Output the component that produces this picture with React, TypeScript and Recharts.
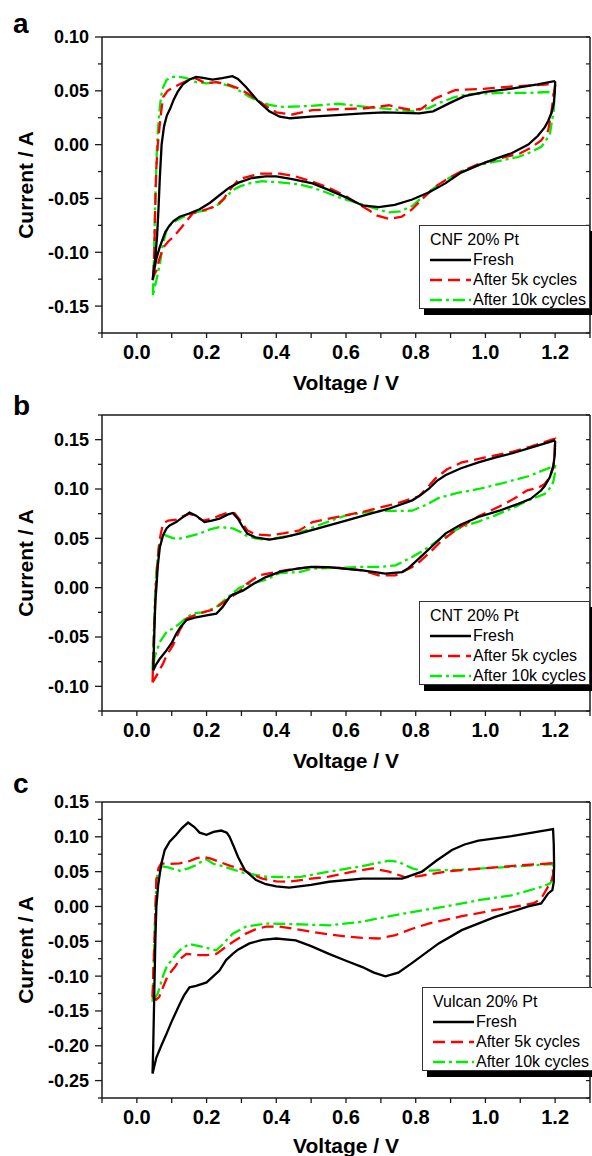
import React from 'react';
import { LineChart, Line, XAxis, YAxis, Legend } from 'recharts';

type Pt = [number, number];

// voltage axis
const voltTicks = [-0.1, 0, 0.1, 0.2, 0.3, 0.4, 0.5, 0.6, 0.7, 0.8, 0.9, 1.0, 1.1, 1.2, 1.3];
const voltLabels = [0, 0.2, 0.4, 0.6, 0.8, 1.0, 1.2];
const seriesNames = ['Fresh', 'After 5k cycles', 'After 10k cycles'];

// current axes (A)
const cnfTicks = [-0.175, -0.15, -0.125, -0.1, -0.075, -0.05, -0.025, 0, 0.025, 0.05, 0.075, 0.1];
const cntTicks = [-0.125, -0.1, -0.075, -0.05, -0.025, 0, 0.025, 0.05, 0.075, 0.1, 0.125, 0.15, 0.175];
const vulcanTicks = [-0.275, -0.25, -0.225, -0.2, -0.175, -0.15, -0.125, -0.1, -0.075, -0.05, -0.025, 0, 0.025, 0.05, 0.075, 0.1, 0.125, 0.15];

// CNF 20% Pt  [V, A]
const cnfFresh: Pt[] = [
  [0.045, -0.126], [0.052, -0.108], [0.058, -0.085], [0.062, -0.06], [0.066, -0.03], [0.071, 0.0], [0.078, 0.017],
  [0.086, 0.027], [0.095, 0.033], [0.106, 0.042], [0.117, 0.049], [0.132, 0.056], [0.151, 0.0605], [0.17, 0.063],
  [0.19, 0.062], [0.217, 0.0605], [0.245, 0.0618], [0.274, 0.0636], [0.29, 0.061], [0.313, 0.0536], [0.33, 0.047],
  [0.346, 0.041], [0.38, 0.031], [0.41, 0.026], [0.44, 0.0245], [0.5, 0.026], [0.55, 0.027], [0.65, 0.029],
  [0.71, 0.03], [0.81, 0.029], [0.85, 0.031], [0.9, 0.039], [0.94, 0.045], [1.0, 0.049], [1.075, 0.052],
  [1.15, 0.056], [1.197, 0.059],
  [1.2, 0.058], [1.199, 0.048], [1.196, 0.038], [1.19, 0.03], [1.18, 0.022], [1.17, 0.016], [1.15, 0.008],
  [1.123, 0.0], [1.075, -0.008], [1.03, -0.013], [0.98, -0.019], [0.93, -0.026], [0.885, -0.036], [0.84, -0.044],
  [0.79, -0.051], [0.74, -0.056], [0.694, -0.058], [0.647, -0.0565], [0.6, -0.049], [0.55, -0.042], [0.504, -0.036],
  [0.446, -0.032], [0.4, -0.0295], [0.37, -0.0295], [0.33, -0.031], [0.294, -0.035], [0.265, -0.04], [0.237, -0.047],
  [0.21, -0.054], [0.18, -0.06], [0.15, -0.064], [0.123, -0.067], [0.105, -0.071], [0.094, -0.075], [0.082, -0.081],
  [0.075, -0.087], [0.065, -0.096], [0.056, -0.106], [0.05, -0.116], [0.045, -0.126],
];
const cnf5k: Pt[] = [
  [0.047, -0.123], [0.05, -0.1], [0.052, -0.07], [0.054, -0.04], [0.056, -0.021], [0.06, 0.0], [0.068, 0.026],
  [0.075, 0.044], [0.088, 0.05], [0.104, 0.053], [0.128, 0.057], [0.15, 0.06], [0.166, 0.062], [0.185, 0.059],
  [0.2, 0.057], [0.228, 0.058], [0.26, 0.056], [0.294, 0.052], [0.32, 0.047], [0.347, 0.041], [0.375, 0.035],
  [0.4, 0.03], [0.446, 0.028], [0.503, 0.032], [0.58, 0.033], [0.646, 0.0335], [0.723, 0.0366], [0.76, 0.034],
  [0.79, 0.032], [0.817, 0.0335], [0.856, 0.043], [0.913, 0.0506], [1.0, 0.052], [1.075, 0.054], [1.18, 0.056],
  [1.2, 0.055],
  [1.195, 0.045], [1.19, 0.032], [1.18, 0.013], [1.16, 0.004], [1.13, -0.003], [1.1, -0.008], [1.04, -0.013],
  [0.98, -0.018], [0.93, -0.025], [0.885, -0.033], [0.856, -0.039], [0.82, -0.05], [0.79, -0.06], [0.76, -0.067],
  [0.723, -0.069], [0.69, -0.066], [0.666, -0.061], [0.63, -0.054], [0.6, -0.048], [0.55, -0.04], [0.5, -0.034],
  [0.45, -0.029], [0.41, -0.027], [0.351, -0.027], [0.294, -0.032], [0.274, -0.039], [0.25, -0.05], [0.228, -0.057],
  [0.2, -0.06], [0.16, -0.064], [0.14, -0.072], [0.12, -0.08], [0.104, -0.086], [0.09, -0.09], [0.075, -0.096],
  [0.063, -0.108], [0.056, -0.117], [0.047, -0.123],
];
const cnf10k: Pt[] = [
  [0.046, -0.14], [0.048, -0.12], [0.05, -0.09], [0.052, -0.06], [0.055, -0.03], [0.058, 0.0], [0.062, 0.02],
  [0.066, 0.035], [0.07, 0.046], [0.075, 0.053], [0.085, 0.06], [0.099, 0.063], [0.12, 0.063], [0.14, 0.062],
  [0.17, 0.058], [0.2, 0.057], [0.228, 0.058], [0.25, 0.056], [0.274, 0.0536], [0.3, 0.049], [0.325, 0.044],
  [0.351, 0.04], [0.38, 0.037], [0.418, 0.035], [0.5, 0.036], [0.58, 0.038], [0.63, 0.036], [0.675, 0.0345],
  [0.73, 0.033], [0.79, 0.031], [0.837, 0.034], [0.87, 0.039], [0.91, 0.044], [0.951, 0.047], [1.05, 0.048],
  [1.12, 0.048], [1.19, 0.049],
  [1.198, 0.045], [1.196, 0.032], [1.19, 0.02], [1.185, 0.01], [1.17, 0.002], [1.16, -0.002], [1.13, -0.007],
  [1.094, -0.0115], [1.04, -0.015], [0.98, -0.019], [0.93, -0.025], [0.885, -0.033], [0.85, -0.041], [0.818, -0.049],
  [0.79, -0.057], [0.755, -0.062], [0.723, -0.063], [0.69, -0.06], [0.656, -0.0565], [0.62, -0.053], [0.58, -0.049],
  [0.54, -0.044], [0.504, -0.04], [0.466, -0.037], [0.41, -0.035], [0.36, -0.034], [0.323, -0.036], [0.294, -0.039],
  [0.274, -0.0425], [0.255, -0.049], [0.237, -0.055], [0.2, -0.061], [0.161, -0.063], [0.135, -0.067],
  [0.113, -0.0705], [0.095, -0.075], [0.085, -0.08], [0.075, -0.092], [0.066, -0.111], [0.056, -0.126], [0.046, -0.14],
];

// CNT 20% Pt
const cntFresh: Pt[] = [
  [0.047, -0.084], [0.049, -0.06], [0.051, -0.035], [0.053, -0.015], [0.056, 0.0], [0.06, 0.022], [0.066, 0.041],
  [0.075, 0.053], [0.085, 0.06], [0.094, 0.063], [0.113, 0.0665], [0.13, 0.071], [0.151, 0.076], [0.17, 0.073],
  [0.194, 0.0665], [0.215, 0.068], [0.237, 0.07], [0.26, 0.074], [0.275, 0.0757], [0.29, 0.07], [0.303, 0.062],
  [0.317, 0.0548], [0.34, 0.051], [0.38, 0.0487], [0.42, 0.051], [0.466, 0.0548], [0.53, 0.061], [0.6, 0.068],
  [0.66, 0.074], [0.723, 0.08], [0.79, 0.0885], [0.815, 0.094], [0.837, 0.1], [0.86, 0.108], [0.885, 0.114],
  [0.93, 0.121], [0.98, 0.127], [1.03, 0.132], [1.075, 0.136], [1.14, 0.143], [1.197, 0.149],
  [1.2, 0.148], [1.199, 0.135], [1.195, 0.124], [1.185, 0.112], [1.17, 0.103], [1.16, 0.0987], [1.13, 0.09],
  [1.094, 0.085], [1.04, 0.078], [0.98, 0.0716], [0.93, 0.064], [0.885, 0.0548], [0.85, 0.043], [0.809, 0.0294],
  [0.78, 0.02], [0.761, 0.0158], [0.713, 0.0142], [0.647, 0.0175], [0.6, 0.019], [0.551, 0.0209], [0.5, 0.021],
  [0.456, 0.019], [0.41, 0.016], [0.37, 0.0107], [0.335, 0.004], [0.304, -0.003], [0.275, -0.007], [0.266, -0.0095],
  [0.245, -0.02], [0.228, -0.0264], [0.2, -0.028], [0.17, -0.03], [0.142, -0.033], [0.125, -0.04], [0.113, -0.0467],
  [0.1, -0.056], [0.085, -0.0636], [0.066, -0.072], [0.055, -0.078], [0.047, -0.084],
];
const cnt5k: Pt[] = [
  [0.045, -0.096], [0.047, -0.07], [0.05, -0.04], [0.053, -0.01], [0.056, 0.01], [0.06, 0.03], [0.066, 0.05],
  [0.075, 0.065], [0.09, 0.068], [0.113, 0.069], [0.13, 0.072], [0.151, 0.075], [0.17, 0.072], [0.19, 0.068],
  [0.215, 0.07], [0.237, 0.073], [0.26, 0.076], [0.28, 0.0755], [0.295, 0.069], [0.317, 0.058], [0.34, 0.054],
  [0.38, 0.053], [0.42, 0.055], [0.466, 0.058], [0.504, 0.0665], [0.58, 0.072], [0.646, 0.0767], [0.742, 0.085],
  [0.809, 0.0926], [0.83, 0.1], [0.856, 0.1105], [0.89, 0.12], [0.932, 0.127], [1.0, 0.132], [1.075, 0.1375],
  [1.13, 0.143], [1.19, 0.15], [1.2, 0.151],
  [1.198, 0.135], [1.195, 0.122], [1.185, 0.112], [1.17, 0.105], [1.15, 0.101], [1.12, 0.0987], [1.09, 0.092],
  [1.056, 0.085], [0.98, 0.0723], [0.913, 0.058], [0.87, 0.046], [0.837, 0.0345], [0.81, 0.026], [0.79, 0.0209],
  [0.742, 0.0125], [0.694, 0.0125], [0.647, 0.0175], [0.58, 0.02], [0.504, 0.021], [0.45, 0.019], [0.4, 0.016],
  [0.351, 0.0125], [0.316, 0.004], [0.29, -0.005], [0.256, -0.013], [0.22, -0.022], [0.18, -0.026], [0.142, -0.0314],
  [0.123, -0.043], [0.104, -0.058], [0.085, -0.069], [0.075, -0.077], [0.06, -0.087], [0.045, -0.096],
];
const cnt10k: Pt[] = [
  [0.045, -0.084], [0.047, -0.06], [0.05, -0.03], [0.053, 0.0], [0.058, 0.025], [0.064, 0.045], [0.075, 0.054],
  [0.09, 0.052], [0.105, 0.05], [0.123, 0.0497], [0.15, 0.052], [0.18, 0.0548], [0.21, 0.059], [0.237, 0.0615],
  [0.275, 0.06], [0.295, 0.057], [0.313, 0.053], [0.34, 0.05], [0.37, 0.0487], [0.41, 0.051], [0.447, 0.053],
  [0.504, 0.061], [0.55, 0.067], [0.6, 0.0733], [0.65, 0.076], [0.694, 0.0777], [0.79, 0.078], [0.83, 0.084],
  [0.866, 0.091], [0.92, 0.096], [0.98, 0.1], [1.05, 0.106], [1.123, 0.1129], [1.185, 0.1217], [1.2, 0.123],
  [1.199, 0.115], [1.195, 0.108], [1.19, 0.103], [1.17, 0.095], [1.123, 0.0885], [1.08, 0.081], [1.028, 0.0733],
  [0.98, 0.067], [0.932, 0.0615], [0.88, 0.052], [0.837, 0.041], [0.79, 0.031], [0.742, 0.0226], [0.7, 0.021],
  [0.647, 0.021], [0.504, 0.0193], [0.466, 0.0158], [0.41, 0.0148], [0.37, 0.008], [0.33, 0.004], [0.294, 0.0],
  [0.26, -0.01], [0.228, -0.0197], [0.19, -0.025], [0.161, -0.026], [0.14, -0.031], [0.123, -0.0365], [0.1, -0.042],
  [0.085, -0.045], [0.066, -0.055], [0.055, -0.066], [0.051, -0.0704], [0.045, -0.084],
];

// Vulcan 20% Pt
const vulcanFresh: Pt[] = [
  [0.045, -0.24], [0.047, -0.2], [0.049, -0.15], [0.051, -0.1], [0.053, -0.05], [0.056, 0.0], [0.061, 0.03],
  [0.066, 0.0475], [0.072, 0.065], [0.08, 0.081], [0.094, 0.093], [0.113, 0.103], [0.13, 0.113], [0.147, 0.1205],
  [0.165, 0.114], [0.18, 0.106], [0.2, 0.103], [0.22, 0.107], [0.242, 0.109], [0.258, 0.106], [0.266, 0.1],
  [0.278, 0.086], [0.29, 0.0715], [0.31, 0.052], [0.342, 0.038], [0.37, 0.032], [0.4, 0.029], [0.437, 0.027],
  [0.5, 0.031], [0.551, 0.0355], [0.647, 0.04], [0.761, 0.04], [0.818, 0.05], [0.86, 0.066], [0.904, 0.081],
  [0.94, 0.089], [0.98, 0.0945], [1.075, 0.101], [1.194, 0.111],
  [1.196, 0.09], [1.197, 0.06], [1.196, 0.035], [1.192, 0.0235], [1.18, 0.0187], [1.16, 0.0043], [1.123, 0.0],
  [1.028, -0.015], [0.932, -0.034], [0.866, -0.053], [0.79, -0.081], [0.75, -0.095], [0.713, -0.1004], [0.68, -0.095],
  [0.647, -0.087], [0.6, -0.078], [0.551, -0.068], [0.5, -0.057], [0.456, -0.0486], [0.4, -0.046], [0.36, -0.048],
  [0.323, -0.053], [0.29, -0.062], [0.275, -0.068], [0.256, -0.077], [0.237, -0.092], [0.2, -0.109], [0.17, -0.114],
  [0.151, -0.116], [0.135, -0.128], [0.123, -0.14], [0.1, -0.165], [0.085, -0.183], [0.07, -0.2], [0.056, -0.217],
  [0.045, -0.24],
];
const vulcan5k: Pt[] = [
  [0.045, -0.13], [0.047, -0.1], [0.049, -0.07], [0.051, -0.04], [0.053, -0.01], [0.056, 0.038], [0.062, 0.055],
  [0.07, 0.062], [0.09, 0.061], [0.123, 0.062], [0.15, 0.065], [0.17, 0.069], [0.19, 0.0715], [0.21, 0.069],
  [0.237, 0.064], [0.27, 0.058], [0.304, 0.053], [0.33, 0.046], [0.36, 0.04], [0.4, 0.036], [0.437, 0.0355],
  [0.5, 0.04], [0.551, 0.0427], [0.62, 0.05], [0.675, 0.0547], [0.723, 0.05], [0.77, 0.042], [0.809, 0.0437],
  [0.885, 0.05], [0.95, 0.053], [1.028, 0.056], [1.1, 0.059], [1.19, 0.062],
  [1.195, 0.0475], [1.19, 0.038], [1.185, 0.033], [1.17, 0.02], [1.16, 0.0115], [1.14, 0.005], [1.113, 0.002],
  [1.028, -0.005], [0.932, -0.014], [0.837, -0.0245], [0.79, -0.032], [0.742, -0.041], [0.694, -0.046],
  [0.647, -0.045], [0.6, -0.043], [0.55, -0.04], [0.504, -0.0366], [0.45, -0.032], [0.409, -0.029], [0.37, -0.029],
  [0.34, -0.033], [0.313, -0.039], [0.275, -0.051], [0.25, -0.06], [0.228, -0.068], [0.2, -0.07], [0.18, -0.07],
  [0.142, -0.068], [0.125, -0.075], [0.109, -0.087], [0.089, -0.099], [0.075, -0.116], [0.064, -0.13],
  [0.055, -0.134], [0.045, -0.13],
];
const vulcan10k: Pt[] = [
  [0.045, -0.137], [0.047, -0.1], [0.049, -0.07], [0.051, -0.04], [0.053, -0.01], [0.056, 0.038], [0.062, 0.052],
  [0.07, 0.058], [0.09, 0.056], [0.123, 0.0513], [0.15, 0.055], [0.17, 0.0595], [0.19, 0.066], [0.2, 0.0677],
  [0.22, 0.061], [0.246, 0.058], [0.304, 0.0485], [0.37, 0.0427], [0.466, 0.042], [0.551, 0.05], [0.647, 0.058],
  [0.723, 0.0657], [0.751, 0.064], [0.79, 0.0547], [0.818, 0.0513], [0.932, 0.053], [1.075, 0.057], [1.194, 0.061],
  [1.196, 0.0427], [1.185, 0.033], [1.16, 0.028], [1.075, 0.016], [0.98, 0.009], [0.885, 0.0], [0.79, -0.008],
  [0.713, -0.015], [0.647, -0.022], [0.551, -0.027], [0.456, -0.0255], [0.37, -0.0245], [0.313, -0.029],
  [0.275, -0.039], [0.245, -0.055], [0.228, -0.063], [0.19, -0.058], [0.151, -0.054], [0.13, -0.06], [0.113, -0.068],
  [0.095, -0.08], [0.085, -0.087], [0.075, -0.1], [0.06, -0.125], [0.045, -0.137],
];

const FONT = '"Liberation Sans", Arial, Helvetica, sans-serif';
const AXIS = '#1a1a1a';
const lineStyles = [
  { stroke: '#000000', dash: undefined as string | undefined },
  { stroke: '#ff0000', dash: '12 6' },
  { stroke: '#00ee00', dash: '12 4 3 4' },
];

const toRows = (pts: Pt[]) => pts.map(([v, i]) => ({ v, i }));
const near = (a: number, b: number) => Math.abs(a - b) < 1e-6;

const BottomTick = (p: any) => {
  const { x, y, payload } = p;
  const v = payload.value as number;
  const show = voltLabels.some((l) => near(l, v));
  return (
    <g>
      <line x1={x} x2={x} y1={y} y2={y + 5} stroke={AXIS} strokeWidth={1.3} />
      {show && (
        <text x={x} y={y + 26} textAnchor="middle" fontFamily={FONT} fontWeight="bold" fontSize={20} fill="#000">
          {v.toFixed(1)}
        </text>
      )}
    </g>
  );
};

const TopTick = (p: any) => (
  <line x1={p.x} x2={p.x} y1={p.y} y2={p.y + 4} stroke={AXIS} strokeWidth={1.2} />
);

const LeftTick = (p: any) => {
  const { x, y, payload } = p;
  const v = payload.value as number;
  const major = near(Math.round(v / 0.05) * 0.05, v);
  return (
    <g>
      <line x1={x - (major ? 7 : 4)} x2={x} y1={y} y2={y} stroke={AXIS} strokeWidth={1.3} />
      {major && (
        <text x={x - 13} y={y} dy="0.36em" textAnchor="end" fontFamily={FONT} fontWeight="bold" fontSize={18} fill="#000">
          {(Math.round(v * 100) / 100).toFixed(2)}
        </text>
      )}
    </g>
  );
};

const RightTick = (p: any) => (
  <line x1={p.x - 4} x2={p.x} y1={p.y} y2={p.y} stroke={AXIS} strokeWidth={1.2} />
);

const LegendBox = ({ title }: { title: string }) => (
  <div
    style={{
      position: 'relative', width: 171, height: 84, boxSizing: 'border-box', border: '1px solid #333',
      background: '#fff', boxShadow: '5px 6px 0 #000', fontFamily: FONT, fontSize: 16, color: '#000',
    }}
  >
    <div style={{ position: 'absolute', left: 10, top: 4, height: 20, lineHeight: '20px', whiteSpace: 'nowrap' }}>{title}</div>
    {seriesNames.map((n, k) => (
      <div key={n} style={{ position: 'absolute', left: 10, top: 24 + 20 * k, height: 20, display: 'flex', alignItems: 'center' }}>
        <svg width={41} height={20}>
          <line x1={0} x2={41} y1={10} y2={10} stroke={lineStyles[k].stroke} strokeWidth={2.5} strokeDasharray={lineStyles[k].dash} />
        </svg>
        <span style={{ marginLeft: 2, lineHeight: '20px', whiteSpace: 'nowrap' }}>{n}</span>
      </div>
    ))}
  </div>
);

interface PanelProps {
  title: string;
  series: Pt[][];
  yTicks: number[];
  top: number;
  height: number;
  marginTop: number;
  xAxisHeight: number;
  titleGap: number;
  legendTop: number;
  legendLeft: number;
}

const Panel = ({ title, series, yTicks, top, height, marginTop, xAxisHeight, titleGap, legendTop, legendLeft }: PanelProps) => {
  const plotBottom = height - xAxisHeight;
  const yMid = (marginTop + plotBottom) / 2;
  const yDomain: [number, number] = [yTicks[0], yTicks[yTicks.length - 1]];
  const order = [2, 1, 0];
  return (
    <div style={{ position: 'absolute', left: 0, top }}>
      <LineChart width={592} height={height} margin={{ top: marginTop, right: 2, bottom: 0, left: 0 }}>
        <XAxis
          xAxisId="x" dataKey="v" type="number" domain={[-0.1, 1.3]} allowDataOverflow ticks={voltTicks} interval={0}
          height={xAxisHeight} tickSize={0} tickMargin={0} tickLine={false} tick={BottomTick}
          axisLine={{ stroke: AXIS, strokeWidth: 1.5 }}
          label={() => (
            <text x={346} y={plotBottom + titleGap} textAnchor="middle" fontFamily={FONT} fontWeight="bold" fontSize={21} fill="#000">
              Voltage / V
            </text>
          )}
        />
        <XAxis
          xAxisId="xt" orientation="top" mirror type="number" domain={[-0.1, 1.3]} allowDataOverflow ticks={voltTicks}
          interval={0} tickSize={0} tickMargin={0} tickLine={false} tick={TopTick} axisLine={{ stroke: AXIS, strokeWidth: 1.5 }}
        />
        <YAxis
          yAxisId="y" type="number" domain={yDomain} allowDataOverflow ticks={yTicks} interval={0} width={102}
          tickSize={0} tickMargin={0} tickLine={false} tick={LeftTick} axisLine={{ stroke: AXIS, strokeWidth: 1.5 }}
          label={() => (
            <text transform={`translate(33, ${yMid}) rotate(-90)`} textAnchor="middle" fontFamily={FONT} fontWeight="bold" fontSize={21} fill="#000">
              Current / A
            </text>
          )}
        />
        <YAxis
          yAxisId="yr" orientation="right" mirror type="number" domain={yDomain} allowDataOverflow ticks={yTicks}
          interval={0} tickSize={0} tickMargin={0} tickLine={false} tick={RightTick} axisLine={{ stroke: AXIS, strokeWidth: 1.5 }}
        />
        {order.map((k) => (
          <Line
            key={seriesNames[k]}
            xAxisId="x"
            yAxisId="y"
            data={toRows(series[k])}
            dataKey="i"
            name={seriesNames[k]}
            type="linear"
            stroke={lineStyles[k].stroke}
            strokeWidth={2.3}
            strokeDasharray={lineStyles[k].dash}
            dot={false}
            activeDot={false}
            isAnimationActive={false}
          />
        ))}
        <Legend
          layout="vertical"
          align="center"
          verticalAlign="middle"
          wrapperStyle={{ left: legendLeft, top: legendTop, width: 171 }}
          content={() => <LegendBox title={title} />}
        />
      </LineChart>
    </div>
  );
};

const panelLetters = ['a', 'b', 'c'];
const letterBaselines = [33, 415, 793];

export default function App() {
  return (
    <div style={{ position: 'absolute', left: 0, top: 0, width: 592, height: 1156, overflow: 'hidden', background: '#fff' }}>
      <Panel title="CNF 20% Pt" series={[cnfFresh, cnf5k, cnf10k]} yTicks={cnfTicks}
        top={0} height={393} marginTop={37} xAxisHeight={60} titleGap={57} legendTop={225} legendLeft={419} />
      <Panel title="CNT 20% Pt" series={[cntFresh, cnt5k, cnt10k]} yTicks={cntTicks}
        top={393} height={378} marginTop={22} xAxisHeight={60} titleGap={57} legendTop={208} legendLeft={419} />
      <Panel title="Vulcan 20% Pt" series={[vulcanFresh, vulcan5k, vulcan10k]} yTicks={vulcanTicks}
        top={771} height={385} marginTop={31} xAxisHeight={58} titleGap={55} legendTop={216} legendLeft={422} />
      <svg width={592} height={1156} style={{ position: 'absolute', left: 0, top: 0, pointerEvents: 'none' }}>
        {panelLetters.map((l, k) => (
          <text key={l} x={13} y={letterBaselines[k]} fontFamily={FONT} fontWeight="bold" fontSize={28} fill="#000">
            {l}
          </text>
        ))}
      </svg>
    </div>
  );
}
